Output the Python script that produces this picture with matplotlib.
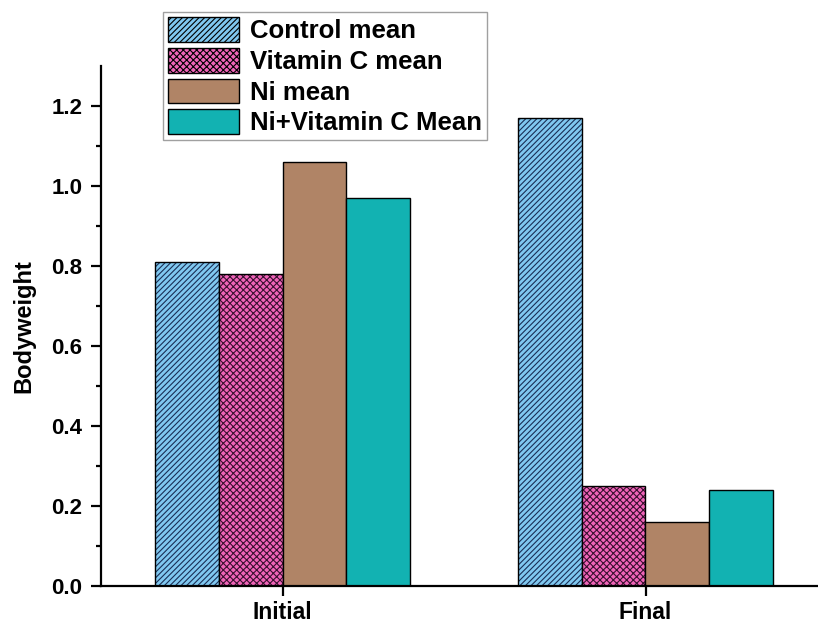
import matplotlib
matplotlib.use("Agg")
import matplotlib.pyplot as plt
from matplotlib.patches import Patch
import numpy as np

plt.rcParams['font.family'] = ['Liberation Sans', 'DejaVu Sans']
plt.rcParams['font.weight'] = 'bold'
plt.rcParams['hatch.linewidth'] = 0.8

categories = ["Initial", "Final"]
series_names = ["Control mean", "Vitamin C mean", "Ni mean", "Ni+Vitamin C Mean"]
control = [0.81, 1.17]
vitc = [0.78, 0.25]
ni = [1.06, 0.16]
ni_vitc = [0.97, 0.24]
series = [control, vitc, ni, ni_vitc]
colors = ["#80c8f0", "#f064b8", "#b08466", "#12b2b2"]
hatches = ["//////", "xxxxx", "", ""]
hatch_colors = ["#1a2f55", "#3a1030", "#000000", "#000000"]

fig = plt.figure(figsize=(8.18, 6.24), dpi=100)
ax = fig.add_axes([101/818, 1-586/624, 717/818, (586-66)/624])

x = np.arange(len(categories))
w = 0.175
for i, (vals, name) in enumerate(zip(series, series_names)):
    offs = (i - 1.5) * w
    ax.bar(x + offs, vals, w, color=colors[i], edgecolor=hatch_colors[i],
           hatch=hatches[i], linewidth=0, label=name)
    ax.bar(x + offs, vals, w, facecolor='none', edgecolor='black', linewidth=1.0)

ax.set_xlim(-0.5, -0.5 + 717/363)
ax.set_ylim(0, 1.3)
ax.set_yticks(np.arange(0, 1.21, 0.2))
ax.set_yticks(np.arange(0.1, 1.3, 0.2), minor=True)
ax.set_yticklabels([f"{v:.1f}" for v in np.arange(0, 1.21, 0.2)])
ax.set_xticks(x)
ax.set_xticklabels(categories)
for s in ['top', 'right']:
    ax.spines[s].set_visible(False)
for s in ['left', 'bottom']:
    ax.spines[s].set_linewidth(1.6)
ax.tick_params(axis='both', which='major', length=7.5, width=1.6, labelsize=16, pad=6)
ax.tick_params(axis='y', which='minor', length=3.8, width=1.6)
ax.tick_params(axis='x', labelsize=16.5, pad=3)
ax.set_ylabel("Bodyweight", fontsize=17, fontweight='bold')
ax.yaxis.set_label_coords((35-101)/717, 0.5)

handles = []
for i, name in enumerate(series_names):
    handles.append(Patch(facecolor=colors[i], edgecolor='black', hatch=hatches[i],
                         linewidth=1.0, label=name))
leg = ax.legend(handles=handles, loc='upper left',
                bbox_to_anchor=((163-101)/717, (586-12)/520),
                prop={'size': 18.5, 'weight': 'bold'}, frameon=True, fancybox=False,
                edgecolor='#888888', handlelength=2.75, handleheight=1.1,
                labelspacing=0.18, borderpad=0.2, handletextpad=0.42, borderaxespad=0)
leg.get_frame().set_linewidth(1.0)

fig.savefig("out.png", dpi=100)
